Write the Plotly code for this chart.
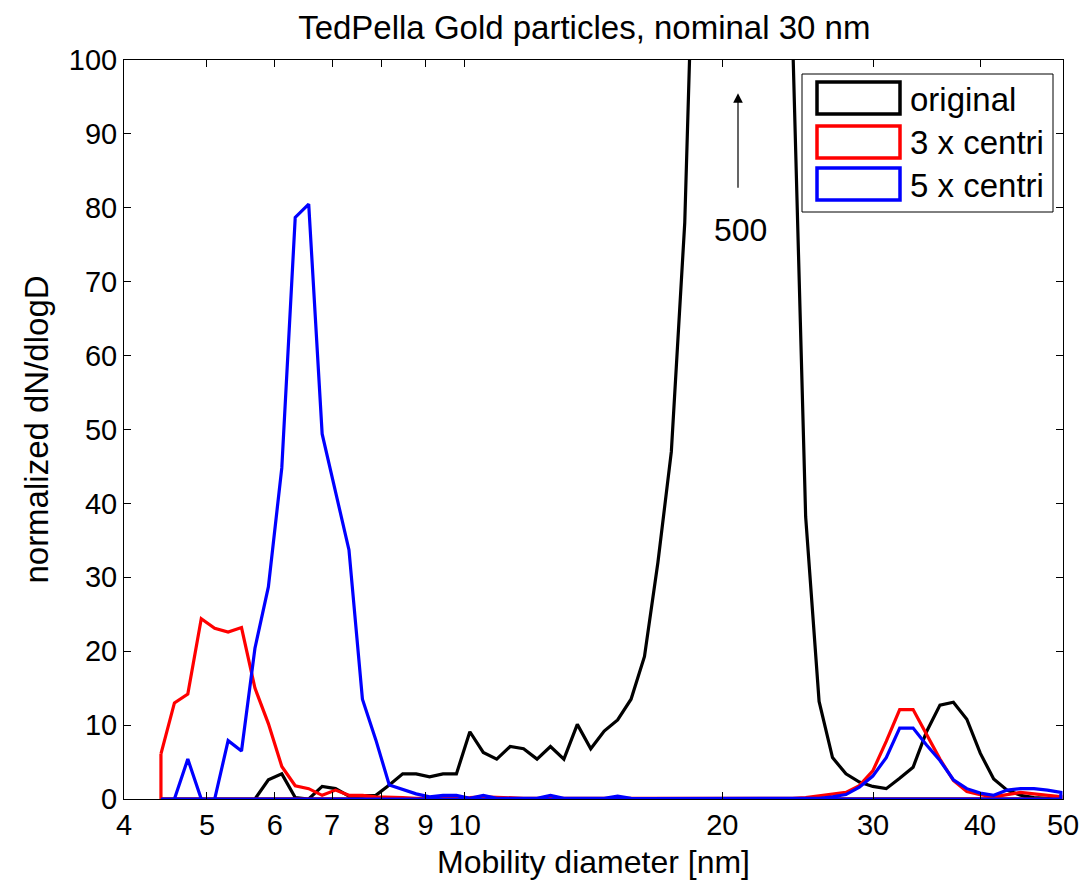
import numpy as np
import plotly.graph_objects as go

# Mobility diameter channels [nm]
diameter = [4.418, 4.581, 4.749, 4.924, 5.105, 5.293, 5.487, 5.689, 5.898, 6.115,
            6.340, 6.574, 6.816, 7.066, 7.326, 7.596, 7.875, 8.165, 8.465, 8.777,
            9.100, 9.434, 9.781, 10.141, 10.514, 10.901, 11.302, 11.718, 12.149, 12.596,
            13.059, 13.540, 14.038, 14.555, 15.090, 15.645, 16.221, 16.817, 17.436, 18.077,
            18.742, 19.432, 20.147, 20.888, 21.656, 22.453, 23.279, 24.135, 25.023, 25.944,
            26.898, 27.888, 28.914, 29.977, 31.080, 32.224, 33.409, 34.638, 35.912, 37.234,
            38.603, 40.023, 41.496, 43.022, 44.605, 46.246, 47.947, 49.711]

original = [0, 0, 0, 0, 0, 0, 0, 0, 2.6, 3.4,
            0.2, 0, 1.7, 1.4, 0.4, 0.4, 0.5, 1.9, 3.4, 3.4,
            3.0, 3.4, 3.4, 9.1, 6.3, 5.4, 7.1, 6.8, 5.4, 7.1,
            5.4, 10.1, 6.8, 9.2, 10.7, 13.5, 19.3, 32, 47, 78,
            140, 280, 430, 500, 450, 320, 200, 105, 38.2, 13.2,
            5.6, 3.4, 2.3, 1.7, 1.4, 2.8, 4.3, 9.1, 12.7, 13.1,
            10.8, 6.2, 2.7, 1.2, 0.5, 0.2, 0.1, 0.1]

centri3 = [6.1, 13.0, 14.2, 24.4, 23.1, 22.6, 23.2, 15.0, 10.2, 4.4,
           1.8, 1.4, 0.5, 1.2, 0.5, 0.5, 0.3, 0.3, 0.2, 0.1,
           0.1, 0.1, 0.1, 0.2, 0.3, 0.2, 0.1, 0.1, 0.1, 0.1,
           0.1, 0.1, 0.05, 0.05, 0.05, 0.05, 0.05, 0.05, 0.05, 0.05,
           0.05, 0.05, 0.05, 0.05, 0.05, 0.05, 0.05, 0.1, 0.2, 0.4,
           0.6, 0.9, 1.8, 3.8, 7.8, 12.1, 12.1, 8.8, 5.4, 2.5,
           1.0, 0.6, 0.3, 0.6, 0.9, 0.7, 0.5, 0.3]

centri5 = [0, 0, 5.4, 0, 0, 7.9, 6.5, 20.4, 28.7, 44.8,
           78.7, 80.5, 49.4, 41.5, 33.7, 13.5, 8.0, 1.9, 1.3, 0.7,
           0.3, 0.5, 0.5, 0.1, 0.5, 0.1, 0.1, 0.1, 0.1, 0.5,
           0.1, 0.1, 0.1, 0.1, 0.4, 0.1, 0.05, 0.05, 0.05, 0.05,
           0.05, 0.05, 0.05, 0.05, 0.05, 0.05, 0.05, 0.05, 0.05, 0.1,
           0.3, 0.6, 1.6, 3.1, 5.6, 9.6, 9.6, 7.3, 5.2, 2.6,
           1.4, 0.8, 0.5, 1.2, 1.4, 1.4, 1.2, 0.9]

series_names = ["original", "3 x centri", "5 x centri"]
series_values = [original, centri3, centri5]
series_colors = ["#000000", "#FF0000", "#0000FF"]

x_ticks = [4, 5, 6, 7, 8, 9, 10, 20, 30, 40, 50]
x_ticklabels = ["4", "5", "6", "7", "8", "9", "10", "20", "30", "40", "50"]

FONT = "Liberation Sans, Arial, Helvetica, sans-serif"

fig = go.Figure()
for name, vals, col in zip(series_names, series_values, series_colors):
    # MATLAB area-style outline: curve plus baseline and end edges
    xs = list(diameter) + [diameter[-1], diameter[0], diameter[0]]
    ys = list(vals) + [0, 0, vals[0]]
    fig.add_trace(go.Scatter(x=xs, y=ys, mode="lines", name=name,
                             line=dict(color=col, width=3.2),
                             showlegend=False, hoverinfo="skip"))

# Arrow and "500" label for the off-scale peak
ax_x = np.log10(20.86)
fig.add_annotation(x=ax_x, y=95.5, ax=ax_x, ay=82.5, xref="x", yref="y",
                   axref="x", ayref="y", text="", showarrow=True,
                   arrowhead=2, arrowsize=1.6, arrowwidth=1.2, arrowcolor="black")
fig.add_annotation(x=np.log10(21.0), y=77.0, xref="x", yref="y", text="500", showarrow=False,
                   font=dict(family=FONT, size=32, color="black"))

# Custom MATLAB-like legend
px_l, px_r, px_t, px_b = 124, 1063, 60, 799
W, H = px_r - px_l, px_b - px_t
def px_x(v):
    return (v - px_l) / W
def px_y(v):
    return (px_b - v) / H

fig.add_shape(type="rect", xref="paper", yref="paper",
              x0=px_x(802), x1=px_x(1053), y0=px_y(212), y1=px_y(74),
              line=dict(color="black", width=1), fillcolor="white", layer="above")
box_tops = [82, 126, 168]
text_centers = [100, 142, 185]
for name, col, bt, tc in zip(series_names, series_colors, box_tops, text_centers):
    fig.add_shape(type="rect", xref="paper", yref="paper",
                  x0=px_x(817), x1=px_x(900), y0=px_y(bt + 32), y1=px_y(bt),
                  line=dict(color=col, width=3.5), fillcolor="rgba(0,0,0,0)", layer="above")
    fig.add_annotation(x=px_x(908), y=px_y(tc), xref="paper", yref="paper",
                       text=name, showarrow=False, xanchor="left", yanchor="middle",
                       font=dict(family=FONT, size=33, color="black"))

fig.update_layout(
    width=1083, height=886,
    margin=dict(l=124, r=20, t=60, b=87, autoexpand=False),
    paper_bgcolor="white", plot_bgcolor="white",
    font=dict(family=FONT, size=28, color="black"),
    title=dict(text="TedPella Gold particles, nominal 30 nm", x=0.5395, xanchor="center",
               y=0.969, yanchor="middle", font=dict(family=FONT, size=33, color="black")),
    showlegend=False,
)
fig.update_xaxes(type="log", range=[np.log10(4), np.log10(50)], automargin=False,
                 tickmode="array", tickvals=x_ticks, ticktext=x_ticklabels,
                 ticks="inside", ticklen=7, tickcolor="black", tickwidth=1,
                 showline=True, linecolor="black", linewidth=1, mirror="ticks",
                 showgrid=False, zeroline=False,
                 tickfont=dict(family=FONT, size=29),
                 title=dict(text="Mobility diameter [nm]", standoff=10,
                            font=dict(family=FONT, size=32)))
fig.update_yaxes(range=[0, 100], tickmode="linear", tick0=0, dtick=10, automargin=False,
                 ticks="inside", ticklen=7, tickcolor="black", tickwidth=1,
                 showline=True, linecolor="black", linewidth=1, mirror="ticks",
                 showgrid=False, zeroline=False,
                 tickfont=dict(family=FONT, size=29),
                 title=dict(text="normalized dN/dlogD", standoff=10,
                            font=dict(family=FONT, size=33)))

fig.write_html("out.html")
